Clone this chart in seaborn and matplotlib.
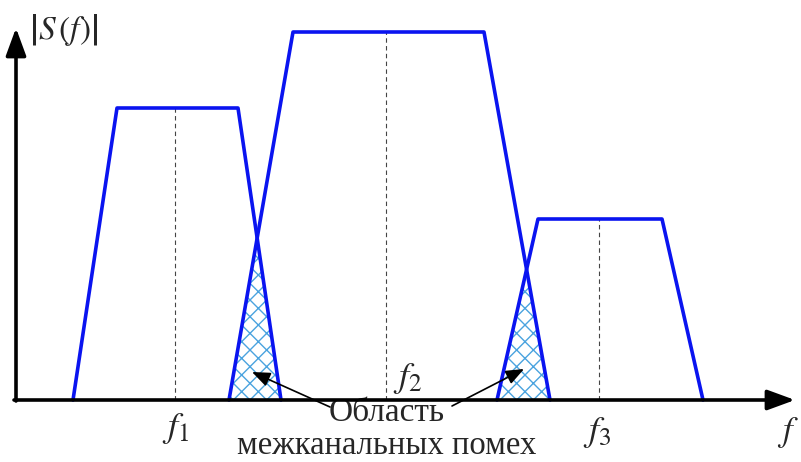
import numpy as np
import pandas as pd
import matplotlib
matplotlib.use("Agg")
import matplotlib.pyplot as plt
import seaborn as sns

# trapezoid spectra: corner frequencies and heights (pixel-like units, baseline = 0)
chan_names = ["f1", "f2", "f3"]
chan_x = [[73, 117, 238, 281], [229, 293, 484, 550], [497, 538, 662, 703]]
chan_top = [292, 368, 181]
chan_center = [175, 386, 599]

center_labels = [r"$f_1$", r"$f_2$", r"$f_3$"]
label_x = [176, 408, 597]
label_y = [-28, 22, -33]

sns.set_style("white")
plt.rcParams["mathtext.fontset"] = "stix"
plt.rcParams["font.family"] = ["Liberation Serif", "DejaVu Serif"]
plt.rcParams["hatch.linewidth"] = 1.0

rows = []
for name, xs, h in zip(chan_names, chan_x, chan_top):
    for i, (x, y) in enumerate(zip(xs, [0, h, h, 0])):
        rows.append({"chan": name, "order": i, "x": x, "y": y})
df = pd.DataFrame(rows)

fig = plt.figure(figsize=(8.01, 4.62), dpi=100)
ax = fig.add_axes([0, 0, 1, 1])

# hatched overlap zones (under both neighbouring spectra)
def level(xs, h, x):
    return np.interp(x, xs, [0, h, h, 0], left=0, right=0)

for a, b in [(0, 1), (1, 2)]:
    lo = chan_x[b][0]
    hi = chan_x[a][3]
    xx = np.linspace(lo, hi, 200)
    yy = np.minimum(level(chan_x[a], chan_top[a], xx), level(chan_x[b], chan_top[b], xx))
    ax.fill_between(xx, 0, yy, facecolor="white", edgecolor="#4aa3df",
                    hatch="xx", linewidth=0, zorder=2)

# dashed centre lines
for c, h in zip(chan_center, chan_top):
    ax.plot([c, c], [0, h], color="#444444", lw=0.8, dashes=(4, 3), zorder=1)

sns.lineplot(data=df, x="x", y="y", units="chan", estimator=None, sort=False,
             color="#0a14f0", lw=2.6, ax=ax, zorder=3)

# axes with arrows
head = dict(arrowstyle="-|>,head_length=0.6,head_width=0.22", color="black",
            lw=2.6, mutation_scale=28, shrinkA=0, shrinkB=0)
ax.annotate("", xy=(795, 0), xytext=(14, 0), arrowprops=head, zorder=4)
ax.annotate("", xy=(16, 372), xytext=(16, -1), arrowprops=head, zorder=4)

ax.text(29, 370, r"$\left|S\,\left(f\right)\right|$", fontsize=24, ha="left", va="center")
for t, x, y in zip(center_labels, label_x, label_y):
    ax.text(x, y, t, fontsize=26, ha="center", va="center")
ax.text(788, -33, r"$f$", fontsize=25, ha="center", va="center")

ax.text(387, -13, "Область", fontsize=24, ha="center", va="center")
ax.text(387, -46, "межканальных помех", fontsize=23.5, ha="center", va="center")

pointer = dict(arrowstyle="-|>,head_length=0.5,head_width=0.2", color="black",
               lw=1.2, mutation_scale=22, shrinkA=0, shrinkB=0)
ax.annotate("", xy=(252, 28), xytext=(330, -7), arrowprops=pointer, zorder=5)
ax.annotate("", xy=(524, 31), xytext=(452, -6), arrowprops=pointer, zorder=5)

ax.set_xlim(0, 801)
ax.set_ylim(-62, 400)
ax.set_axis_off()

fig.savefig("out.png", dpi=100)
